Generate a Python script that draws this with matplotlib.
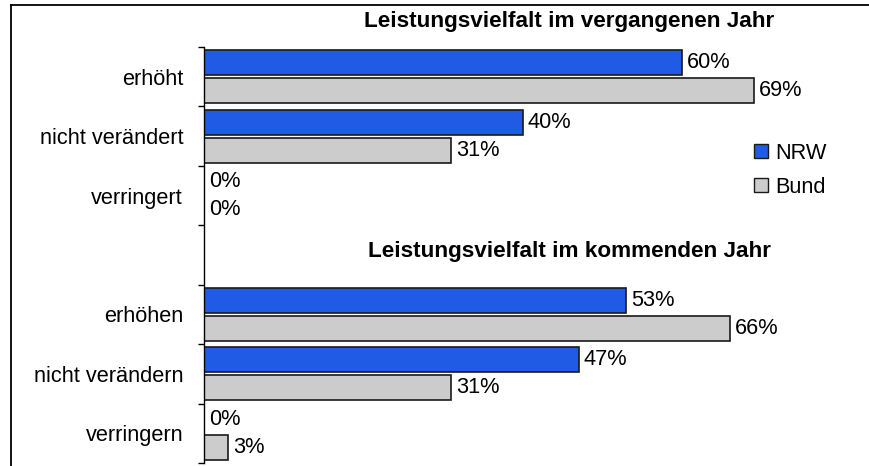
import matplotlib
matplotlib.use("Agg")
import matplotlib.pyplot as plt
from matplotlib.lines import Line2D
from matplotlib.patches import Patch
import numpy as np

plt.rcParams['font.family'] = ['Liberation Sans', 'DejaVu Sans']

categories = ["erhöht", "nicht verändert", "verringert", "",
              "erhöhen", "nicht verändern", "verringern"]
nrw = [60, 40, 0, None, 53, 47, 0]
bund = [69, 31, 0, None, 66, 31, 3]
series_names = ["NRW", "Bund"]
titles = ["Leistungsvielfalt im vergangenen Jahr",
          "Leistungsvielfalt im kommenden Jahr"]

W, H = 869, 466
fig = plt.figure(figsize=(W / 100, H / 100), dpi=100)
fig.patch.set_facecolor("white")

ax_left, ax_right = 204 / W, 862 / W
ax_top, ax_bot = 1 - 47 / H, 1 - 463 / H
ax = fig.add_axes([ax_left, ax_bot, ax_right - ax_left, ax_top - ax_bot])

blue = "#1F5BE4"
grey = "#CCCCCC"
edge = "#1a1a1a"
fs = 15.7
h = 0.42
off = 0.235

idx = [i for i, v in enumerate(nrw) if v is not None]
ypos = np.array(idx, dtype=float)
nv = [nrw[i] for i in idx]
bv = [bund[i] for i in idx]

b1 = ax.barh(ypos - off, nv, height=h, color=blue, edgecolor=edge, linewidth=1.2)
b2 = ax.barh(ypos + off, bv, height=h, color=grey, edgecolor=edge, linewidth=1.2)
ax.bar_label(b1, labels=[f"{v}%" for v in nv], padding=3.6, fontsize=fs)
ax.bar_label(b2, labels=[f"{v}%" for v in bv], padding=3.6, fontsize=fs)

ax.set_ylim(len(categories) - 0.5, -0.5)
xmax = (862 - 204) / 7.97
ax.set_xlim(0, xmax)

for s in ["top", "right", "bottom"]:
    ax.spines[s].set_visible(False)
ax.spines["left"].set_linewidth(1.0)
ax.set_xticks([])

ax.set_yticks(np.arange(len(categories) + 1) - 0.5)
ax.set_yticklabels([])
ax.tick_params(axis="y", which="major", direction="out", length=4, width=1.0)
ax.set_yticks(np.arange(len(categories)), minor=True)
ax.set_yticklabels(categories, minor=True, fontsize=fs)
ax.tick_params(axis="y", which="minor", length=0, pad=15)

fig.text(569 / W, 1 - 22 / H, titles[0], ha="center", va="center",
         fontsize=16.2, fontweight="bold")
fig.text(569 / W, 1 - 251 / H, titles[1], ha="center", va="center",
         fontsize=16.2, fontweight="bold")

handles = [Patch(facecolor=blue, edgecolor=edge, linewidth=1.0),
           Patch(facecolor=grey, edgecolor=edge, linewidth=1.0)]
fig.legend(handles, series_names, loc="upper left",
           bbox_to_anchor=(745 / W, 1 - 134 / H), frameon=False,
           fontsize=fs, handlelength=0.65, handleheight=0.65,
           handletextpad=0.35, labelspacing=0.6, borderaxespad=0)

fig.add_artist(Line2D([11 / W, 11 / W], [0, 1 - 4.5 / H], color="black",
                      linewidth=1.3, transform=fig.transFigure))
fig.add_artist(Line2D([11 / W, 1], [1 - 4.5 / H, 1 - 4.5 / H], color="black",
                      linewidth=1.3, transform=fig.transFigure))

fig.savefig("out.png", dpi=100, facecolor="white")
